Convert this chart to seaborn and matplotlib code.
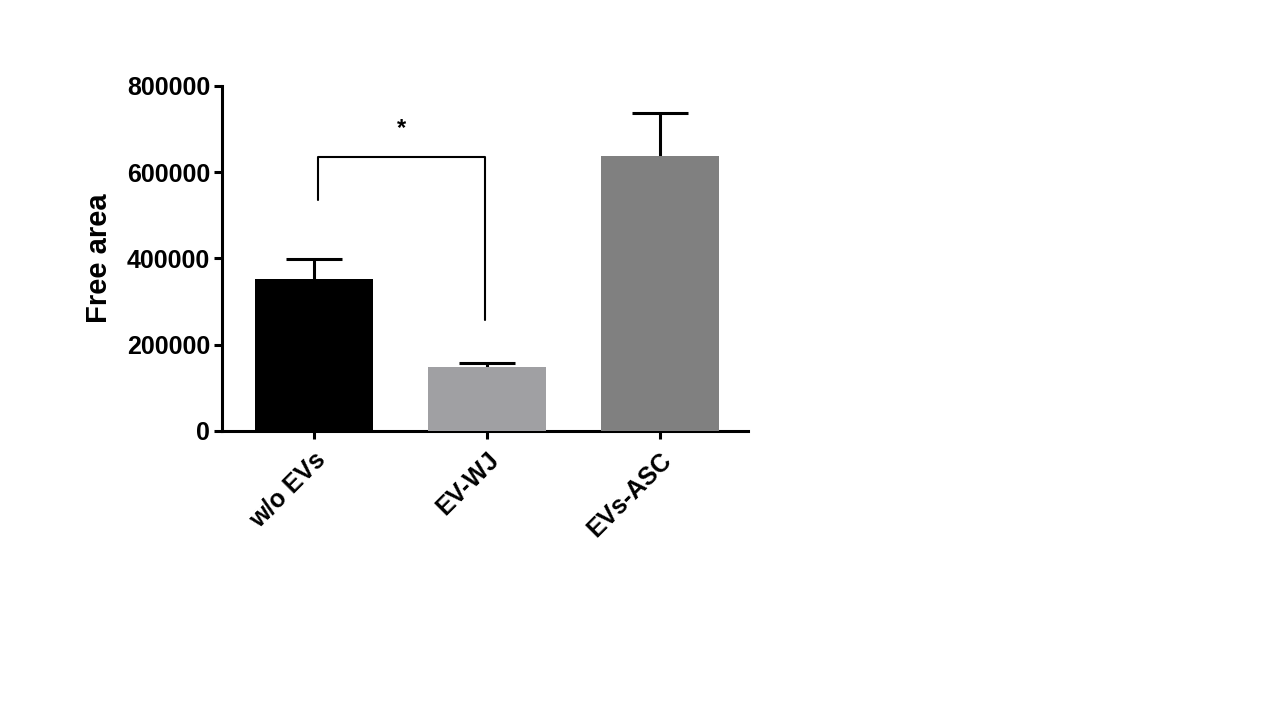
import numpy as np
import pandas as pd
import seaborn as sns
import matplotlib.pyplot as plt

# values
groups = ["w/o EVs", "EV-WJ", "EVs-ASC"]
means = [352000, 148000, 637000]
upper_err = [47000, 10000, 100000]
bar_colors = ["#000000", "#A09FA4", "#808080"]
y_ticks = [0, 200000, 400000, 600000, 800000]

# significance bracket between first two groups
bracket_top = 635000
bracket_left_end = 536000
bracket_right_end = 257000
star_label = "*"

sns.set_style("white")
plt.rcParams["font.family"] = ["Liberation Sans", "DejaVu Sans"]
plt.rcParams["font.weight"] = "bold"
plt.rcParams["text.color"] = "black"
plt.rcParams["axes.labelcolor"] = "black"
plt.rcParams["xtick.color"] = "black"
plt.rcParams["ytick.color"] = "black"

df = pd.DataFrame({"group": groups, "Free area": means})

fig = plt.figure(figsize=(12.8, 7.2), dpi=100)
ax = fig.add_axes([0.1734, 0.4014, 0.4110, 0.4792])

sns.barplot(data=df, x="group", y="Free area", hue="group",
            palette=bar_colors, width=0.68, ax=ax, legend=False,
            errorbar=None, zorder=3, linewidth=0)

xs = np.arange(len(groups))
_, caps, _ = ax.errorbar(xs, means, yerr=[[0] * len(means), upper_err],
                         fmt="none", ecolor="black", elinewidth=2.2,
                         capsize=20.5, capthick=2.2, zorder=2)
# only the upper cap is shown
for c in caps:
    if np.allclose(c.get_ydata(), means):
        c.set_visible(False)

# bracket
x0, x1 = 0.023, 0.99
ax.plot([x0, x0, x1, x1],
        [bracket_left_end, bracket_top, bracket_top, bracket_right_end],
        color="black", lw=1.5, zorder=4, clip_on=False)
ax.text((x0 + x1) / 2, bracket_top + 40000, star_label, ha="center",
        va="bottom", fontsize=17, fontweight="bold")

ax.set_xlim(-0.53, 2.51)
ax.set_ylim(0, 800000)
ax.set_yticks(y_ticks)
ax.set_yticklabels([str(v) for v in y_ticks])
ax.set_xlabel("")
ax.set_ylabel("Free area", fontsize=21, fontweight="bold", labelpad=10)

for s in ["top", "right"]:
    ax.spines[s].set_visible(False)
for s in ["left", "bottom"]:
    ax.spines[s].set_linewidth(2.2)
    ax.spines[s].set_color("black")

ax.tick_params(axis="y", length=5.5, width=2.2, labelsize=18, pad=3,
               left=True)
ax.tick_params(axis="x", length=6, width=2.2, labelsize=18, pad=6,
               bottom=True)
for lab in ax.get_xticklabels():
    lab.set_rotation(45)
    lab.set_ha("right")
    lab.set_rotation_mode("anchor")
    lab.set_fontweight("bold")
for lab in ax.get_yticklabels():
    lab.set_fontweight("bold")

fig.savefig("out.png", dpi=100)
